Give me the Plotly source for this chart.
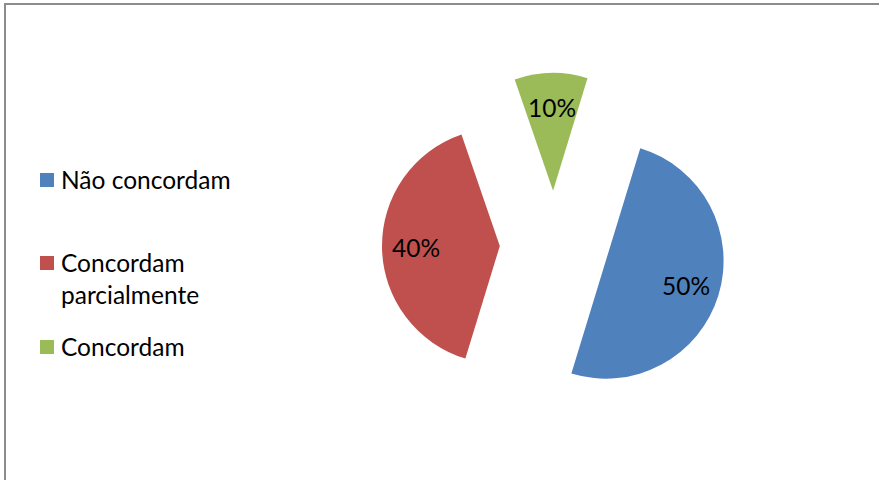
import numpy as np
import plotly.graph_objects as go

categories = ["Não concordam", "Concordam<br>parcialmente", "Concordam"]
values = [50, 40, 10]
pct_labels = ["50%", "40%", "10%"]
colors = ["#4F81BD", "#C0504D", "#9BBB59"]

W, H = 879, 480
FONT = "Lato"
TXT = 24.5

# pie layout (pixels)
PIE_X = (382, 726)
PIE_Y = (73, 417)
ROTATION = 17
PULL = 0.46
LABEL_R = 0.71  # label distance from slice apex, as a fraction of the radius

# legend layout (pixels from top-left): first-line centre of each entry
LEG_Y = [180, 263, 347]
LEG_SYM_X = (40, 54)
LEG_TXT_X = 59
LINE_H = TXT * 1.3

fig = go.Figure(go.Pie(
    labels=categories,
    values=values,
    sort=False,
    direction="clockwise",
    rotation=ROTATION,
    pull=[PULL] * len(values),
    marker=dict(colors=colors, line=dict(width=0)),
    textinfo="none",
    hoverinfo="skip",
    showlegend=False,
    domain=dict(x=[PIE_X[0] / W, PIE_X[1] / W], y=[1 - PIE_Y[1] / H, 1 - PIE_Y[0] / H]),
))

# percentage labels placed along each slice's mid-angle
vals = np.array(values, dtype=float)
ends = np.cumsum(vals) / vals.sum() * 360.0
mids = np.radians(ROTATION + ends - vals / vals.sum() * 180.0)
cx, cy = (PIE_X[0] + PIE_X[1]) / 2, (PIE_Y[0] + PIE_Y[1]) / 2
R = min(PIE_X[1] - PIE_X[0], PIE_Y[1] - PIE_Y[0]) / (2 * (1 + PULL))
annotations = []
for lab, a in zip(pct_labels, mids):
    d = R * (PULL + LABEL_R)
    px, py = cx + d * np.sin(a), cy - d * np.cos(a)
    annotations.append(dict(
        xref="paper", yref="paper", x=px / W, y=1 - py / H,
        xanchor="center", yanchor="middle", showarrow=False,
        text=lab, font=dict(family=FONT, size=TXT, color="#000000"),
    ))

# chart-area frame: only its top and left edges are inside the picture
fx, fy = 5 / W, 1 - 4 / H
shapes = [
    dict(type="path", xref="paper", yref="paper",
         path=f"M {fx},-0.2 L {fx},{fy} L 1.3,{fy}",
         line=dict(color="#8C8C8C", width=2), fillcolor="rgba(0,0,0,0)", layer="above"),
]
for name, col, yc in zip(categories, colors, LEG_Y):
    shapes.append(dict(
        type="rect", xref="paper", yref="paper",
        x0=LEG_SYM_X[0] / W, x1=LEG_SYM_X[1] / W,
        y0=1 - (yc + 7) / H, y1=1 - (yc - 7) / H,
        fillcolor=col, line=dict(width=0),
    ))
    annotations.append(dict(
        xref="paper", yref="paper", x=LEG_TXT_X / W, y=1 - (yc - LINE_H / 2 - 1) / H,
        xanchor="left", yanchor="top", align="left", showarrow=False,
        text=name, font=dict(family=FONT, size=TXT, color="#000000"),
    ))

fig.update_layout(
    width=W, height=H,
    margin=dict(l=0, r=0, t=0, b=0),
    paper_bgcolor="white",
    plot_bgcolor="white",
    shapes=shapes,
    annotations=annotations,
)

fig.write_html(
    "out.html",
    post_script="document.documentElement.style.overflow='hidden';document.body.style.overflow='hidden';document.body.style.margin='0';",
)
